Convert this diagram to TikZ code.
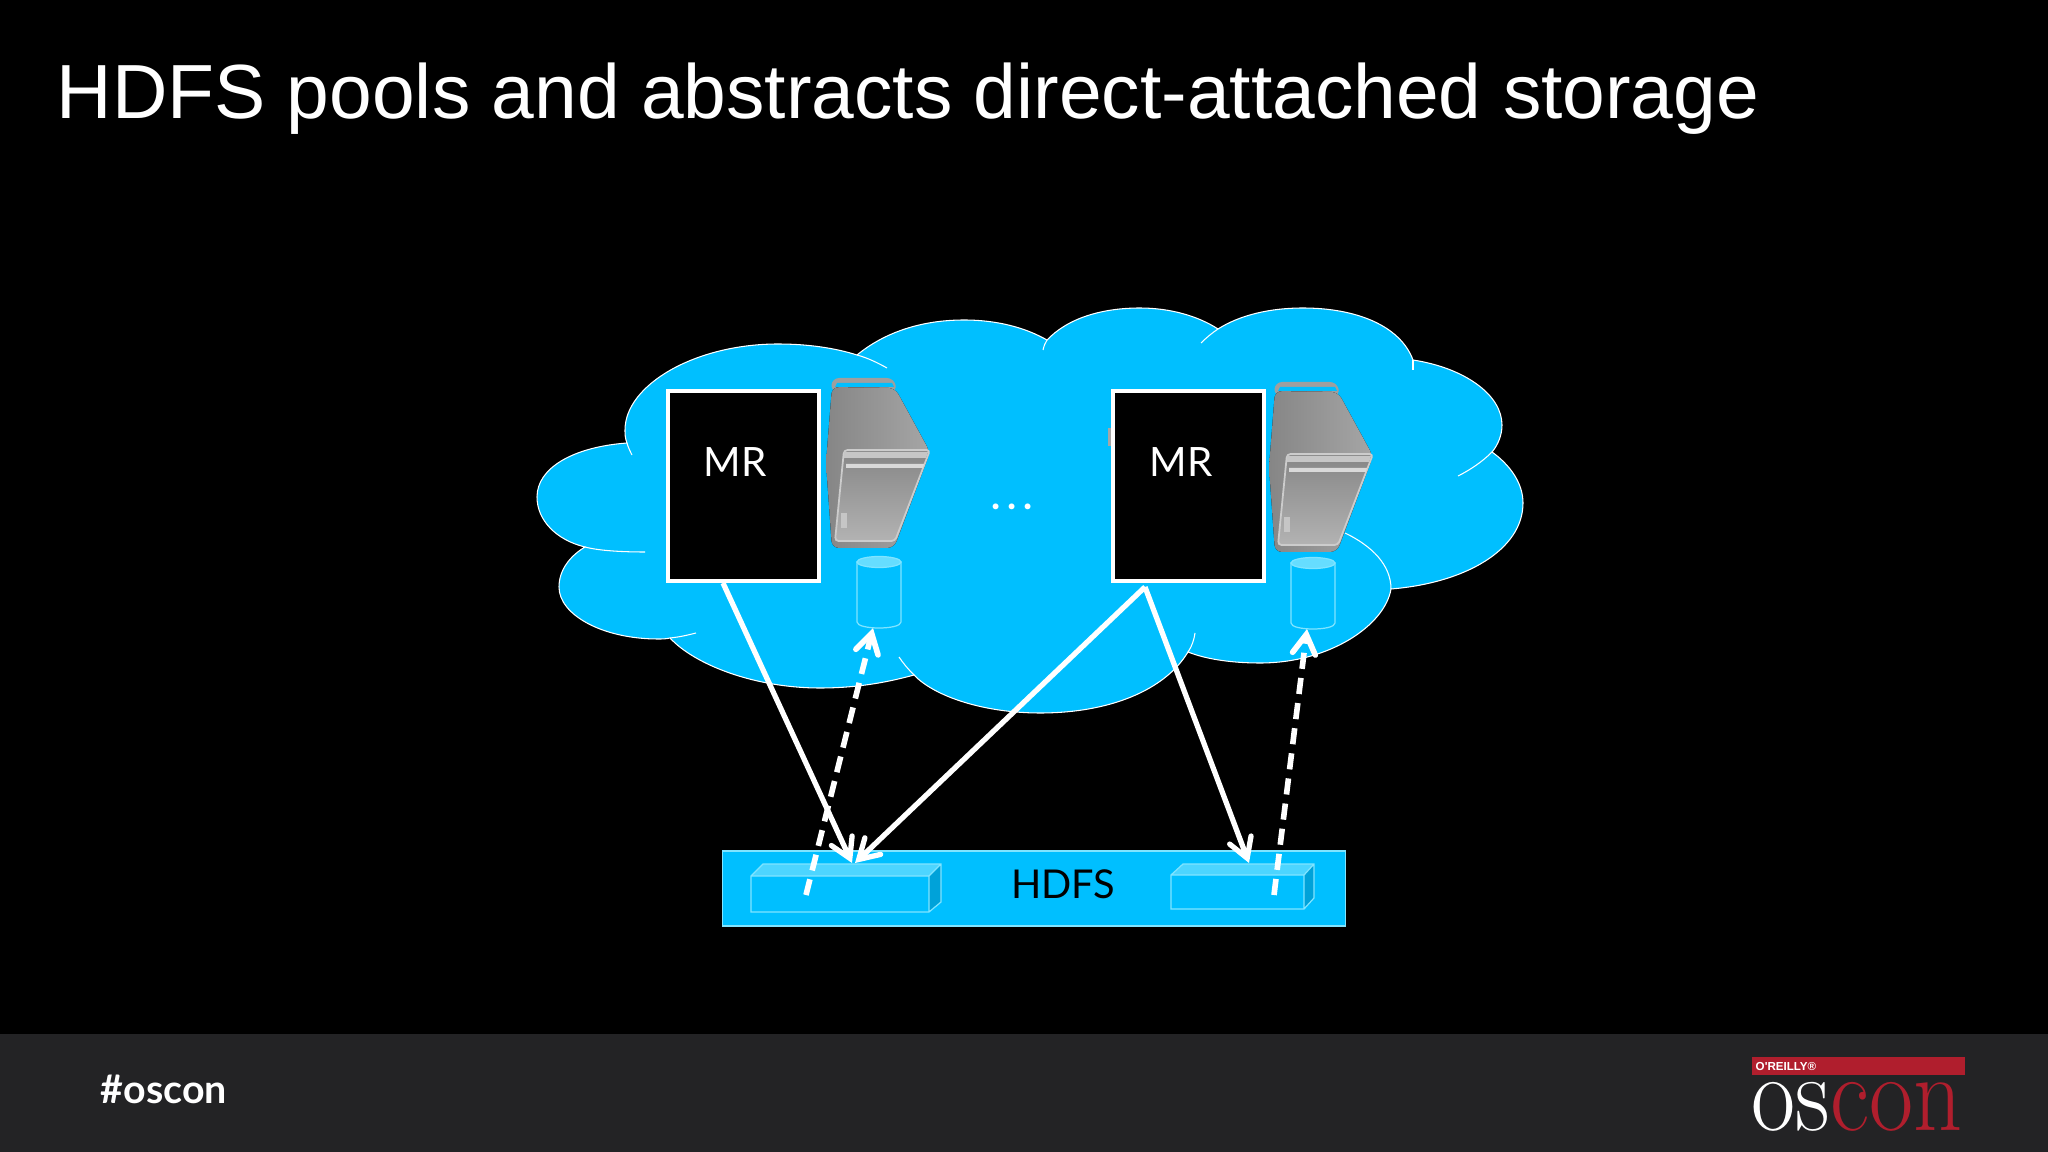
\documentclass[tikz,border=0pt]{standalone}
\usepackage{xcolor}
\usepackage{fontspec}
\usepackage{tikz}
\usetikzlibrary{arrows.meta}
\newfontfamily\titlefont{Liberation Sans}
\newfontfamily\gillfont{Lato}
\definecolor{cloudblue}{HTML}{00BFFF}
\definecolor{barline}{HTML}{80E4FF}
\definecolor{bandgray}{HTML}{232325}
\definecolor{logored}{HTML}{B01E2D}
\tikzset{
  mrbox/.style={rectangle, draw=white, fill=black, line width=0.9pt, minimum width=1.51cm, minimum height=1.90cm, inner sep=0pt},
  mrtext/.style={text=white, inner sep=0pt, font=\gillfont\fontsize{11.5pt}{14pt}\selectfont},
  solidlink/.style={->, draw=white, line width=1.5pt},
  dashlink/.style={->, draw=white, line width=1.6pt, dash pattern=on 4.6pt off 2.6pt},
  >={Straight Barb[length=5.5pt, width=6.5pt, line cap=round]},
  server/.pic={
    % handle and body
    \fill[gray!75, rounded corners=2pt] (0,0) -- (62,0) -- (65,14) -- (-1,14) -- cycle;
    \fill[cloudblue] (5,5) -- (60,5) -- (62,9) -- (3,9) -- cycle;
    \fill[left color=gray!95, right color=gray!70, rounded corners=2pt] (0,9) -- (63,10) -- (98,74) -- (62,170) -- (0,170) -- (-6,85) -- cycle;
    % front panel
    \fill[top color=gray!95, bottom color=gray!60, rounded corners=1pt] (12,72) -- (98,72) -- (63,163) -- (3,163) -- cycle;
    \draw[gray!40, line width=0.5pt, rounded corners=1pt] (12,72) -- (98,72) -- (63,163) -- (3,163) -- cycle;
    \fill[gray!45] (12,74) -- (96,74) -- (94,80) -- (12,80) -- cycle;
    \fill[gray!30] (14,86) -- (92,86) -- (91,90) -- (14,90) -- cycle;
    \fill[gray!45] (9,135) rectangle (15,150);
  },
  can/.pic={
    % body, then the lighter top
    \draw[fill=cloudblue, draw=barline, line width=0.35pt] (-22,0) -- (-22,60) .. controls (-22,68) and (22,68) .. (22,60) -- (22,0) -- cycle;
    \draw[fill=barline!80!cloudblue, draw=barline, line width=0.35pt] (0,0) ellipse (22 and 5.5);
    \coordinate (-in) at (-6,66);
  },
}
\begin{document}
\begin{tikzpicture}[x=0.01cm, y=-0.01cm]
\useasboundingbox (0,0) rectangle (2048,1152);
\fill[black] (0,0) rectangle (2048,1152);

% Bottom band
\fill[bandgray] (0,1034) rectangle (2048,1152);

% Title
\node[anchor=base west, text=white, inner sep=0pt, font=\titlefont\fontsize{21.83pt}{26pt}\selectfont] (title) at (56,118.5) {HDFS pools and abstracts direct-attached storage};

% Cloud
\draw[fill=cloudblue, draw=white, line width=0.3pt]
  (857,355) .. controls (885,332) and (922,320) .. (964,320)
  .. controls (998,320) and (1026,328) .. (1047,340)
  .. controls (1068,318) and (1102,308) .. (1140,308)
  .. controls (1170,308) and (1198,316) .. (1218,329)
  .. controls (1240,315) and (1270,308) .. (1303,308)
  .. controls (1355,308) and (1400,325) .. (1413,360)
  .. controls (1465,368) and (1502,395) .. (1502,425)
  .. controls (1502,435) and (1498,445) .. (1492,452)
  .. controls (1510,465) and (1523,483) .. (1523,503)
  .. controls (1523,550) and (1465,583) .. (1391,589)
  .. controls (1385,625) and (1330,663) .. (1260,663)
  .. controls (1235,663) and (1208,660) .. (1188,652)
  .. controls (1165,690) and (1110,713) .. (1040,713)
  .. controls (985,713) and (935,697) .. (914,675)
  .. controls (885,683) and (855,688) .. (820,688)
  .. controls (755,688) and (695,665) .. (670,638)
  .. controls (666,639) and (662,639) .. (658,639)
  .. controls (603,639) and (559,615) .. (559,587)
  .. controls (559,570) and (570,556) .. (585,547)
  .. controls (556,540) and (537,520) .. (537,497)
  .. controls (537,468) and (573,447) .. (627,443)
  .. controls (625,438) and (625,434) .. (625,430)
  .. controls (625,385) and (695,344) .. (778,344)
  .. controls (808,344) and (835,348) .. (857,355) -- cycle;

% Cloud seams
\draw[white, line width=0.3pt] (857,355) .. controls (868,358) and (878,363) .. (887,368);
\draw[white, line width=0.3pt] (627,443) .. controls (628,447) and (630,451) .. (632,455);
\draw[white, line width=0.3pt] (585,547) .. controls (600,551) and (625,552) .. (645,552);
\draw[white, line width=0.3pt] (670,638) .. controls (680,637) and (688,635) .. (696,633);
\draw[white, line width=0.3pt] (899,657) .. controls (903,663) and (908,669) .. (914,675);
\draw[white, line width=0.3pt] (1047,340) .. controls (1045,343) and (1044,346) .. (1043,350);
\draw[white, line width=0.3pt] (1218,329) .. controls (1212,333) and (1206,338) .. (1201,343);
\draw[white, line width=0.3pt] (1413,360) -- (1413,370);
\draw[white, line width=0.3pt] (1492,452) .. controls (1482,462) and (1470,470) .. (1458,476);
\draw[white, line width=0.3pt] (1345,533) .. controls (1372,546) and (1391,565) .. (1391,589);
\draw[white, line width=0.3pt] (1188,652) .. controls (1192,646) and (1194,640) .. (1195,633);

% Machines
\fill[gray!70] (1108,428) rectangle (1114,446);
\pic at (832,378) {server};
\pic at (1275,382) {server};

\node[mrbox] (mr1) at (743.5,486) {};
\node[mrbox] (mr2) at (1188.5,486) {};
\node[mrtext] (mr1text) at (735,462) {MR};
\node[mrtext] (mr2text) at (1181,462) {MR};

\pic (disk1) at (879,562) {can};
\pic (disk2) at (1313,563) {can};

\node[text=white, inner sep=0pt, font=\gillfont\bfseries\fontsize{11pt}{12pt}\selectfont] (dots) at (1012,507) {.\,.\,.};

% HDFS bar
\node[rectangle, draw=barline, fill=cloudblue, line width=0.3pt, minimum width=6.22cm, minimum height=0.75cm, inner sep=0pt] (hdfs) at (1034,888.5) {};
\node[text=black, inner sep=0pt, font=\gillfont\fontsize{11.3pt}{14pt}\selectfont] (hdfstext) at (1063,884) {HDFS};

% Blocks on the bar
\fill[barline!60!cloudblue] (751,876) -- (763,864) -- (941,864) -- (929,876) -- cycle;
\fill[cloudblue!85!black] (929,876) -- (941,864) -- (941,902) -- (929,912) -- cycle;
\draw[barline, line width=0.35pt] (751,876) -- (763,864) -- (941,864) -- (941,902) -- (929,912) -- (751,912) -- cycle (751,876) -- (929,876) -- (941,864) (929,876) -- (929,912);
\fill[barline!60!cloudblue] (1171,875) -- (1183,864) -- (1314,864) -- (1304,875) -- cycle;
\fill[cloudblue!85!black] (1304,875) -- (1314,864) -- (1314,898) -- (1304,909) -- cycle;
\draw[barline, line width=0.35pt] (1171,875) -- (1183,864) -- (1314,864) -- (1314,898) -- (1304,909) -- (1171,909) -- cycle (1171,875) -- (1304,875) -- (1314,864) (1304,875) -- (1304,909);

% Connector ends
\coordinate (out1) at (723,583);
\coordinate (out2) at (1145,587);
\coordinate (block1) at (852,863);
\coordinate (block1b) at (855,863);
\coordinate (block2) at (1249,863);
\coordinate (read1) at (806,895);
\coordinate (read2) at (1274,895);

% Connections
\draw[solidlink] (out1) -- (block1);
\draw[solidlink] (out2) -- (block1b);
\draw[solidlink] (out2) -- (block2);
\draw[dashlink] (read1) -- (disk1-in);
\draw[dashlink] (read2) -- (disk2-in);

% Footer
\node[anchor=base west, text=white, inner sep=0pt, font=\gillfont\bfseries\fontsize{11.2pt}{13pt}\selectfont] (tag) at (100,1103) {\#oscon};
\node[rectangle, fill=logored, minimum width=2.13cm, minimum height=0.18cm, inner sep=0pt] (logobar) at (1858.5,1066) {};
\node[anchor=west, text=white, inner sep=0pt, font=\titlefont\bfseries\fontsize{3.3pt}{4pt}\selectfont] (oreilly) at (1755,1066) {O'REILLY®};
\node[anchor=base west, inner sep=0pt, font=\rmfamily\fontsize{31pt}{34pt}\selectfont, xscale=0.88] (oscon) at (1751,1130) {\textcolor{white}{os}\textcolor{logored}{con}};
\end{tikzpicture}
\end{document}
